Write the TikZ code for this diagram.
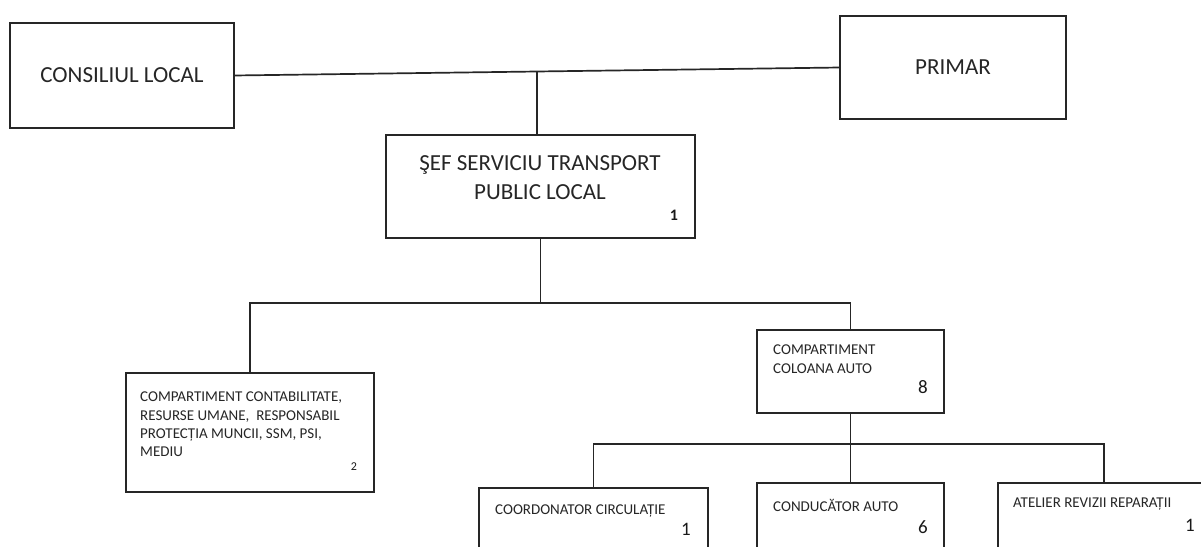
\documentclass[tikz,border=0pt]{standalone}
\usepackage{fontspec}
\setmainfont{Carlito}
\usetikzlibrary{calc}
\begin{document}
\begin{tikzpicture}[x=1pt,y=-1pt,
  box/.style={draw=black!85, rectangle, line width=1.8pt, inner sep=0pt, outer sep=0pt},
  conn/.style={draw=black!85, line width=1.7pt},
  big/.style={font=\fontsize{23}{29}\selectfont, text=black!85},
  small/.style={font=\fontsize{15}{18.3}\selectfont, text=black!85, inner sep=0pt},
  num/.style={font=\fontsize{19}{19}\selectfont, text=black!90, inner sep=0pt}]
\useasboundingbox (0,0) rectangle (1201,546);
\clip (0,0) rectangle (1201,546);
\fill[white] (0,0) rectangle (1201,546);

% boxes
\node[box, minimum width=224pt, minimum height=105pt, big] (cons) at (122,75.5) {CONSILIUL LOCAL};
\node[box, minimum width=226pt, minimum height=103pt, big] (primar) at (953,67.5) {PRIMAR};
\node[box, minimum width=309pt, minimum height=103pt] (sef) at (540.5,186.5) {};
\node[box, minimum width=248pt, minimum height=119pt] (contab) at (250,432.5) {};
\node[box, minimum width=187pt, minimum height=83pt] (coloana) at (850.5,371.5) {};
\node[box, minimum width=229pt, minimum height=102pt] (coord) at (593.5,539) {};
\node[box, minimum width=187pt, minimum height=107pt] (cond) at (850.5,536.5) {};
\node[box, minimum width=212pt, minimum height=107pt] (atelier) at (1104,536.5) {};

% texts
\node[big, align=center, inner sep=0pt] (seft) at (540,177.5) {ŞEF SERVICIU TRANSPORT\\PUBLIC LOCAL};
\node[num, font=\fontsize{16}{16}\selectfont\bfseries] (sefn) at (674,215) {1};

\node[small, anchor=north west, align=left] (contabt) at (140,392) {COMPARTIMENT CONTABILITATE,\\RESURSE UMANE,~~RESPONSABIL\\PROTECȚIA MUNCII, SSM, PSI,\\MEDIU};
\node[num, font=\fontsize{12}{12}\selectfont] (contabn) at (354,467) {2};

\node[small, anchor=north west, align=left] (coloanat) at (773,345) {COMPARTIMENT\\COLOANA AUTO};
\node[num] (coloanan) at (923,387) {8};

\node[small, anchor=base west] (coordt) at (495,514) {COORDONATOR CIRCULAȚIE};
\node[num] (coordn) at (686,529) {1};

\node[small, anchor=base west] (condt) at (773,511) {CONDUCĂTOR AUTO};
\node[num] (condn) at (923,527) {6};

\node[small, anchor=base west] (ateliert) at (1013,507) {ATELIER REVIZII REPARAȚII};
\node[num] (ateliern) at (1190,525) {1};

% connectors
\coordinate (j1) at ($(cons.east)!0.5!(primar.west)$);
\draw[conn] (cons.east) -- (primar.west);
\draw[conn] (j1) -- (j1 |- sef.north);
\coordinate (j2) at (540.5,303);
\draw[conn] (sef.south) -- (j2);
\draw[conn] (contab.north) |- (j2) -| (coloana.north);
\coordinate (j3) at (850.5,444);
\draw[conn] (coloana.south) -- (cond.north);
\draw[conn] (coord.north) |- (j3) -| (atelier.north);
\end{tikzpicture}
\end{document}
